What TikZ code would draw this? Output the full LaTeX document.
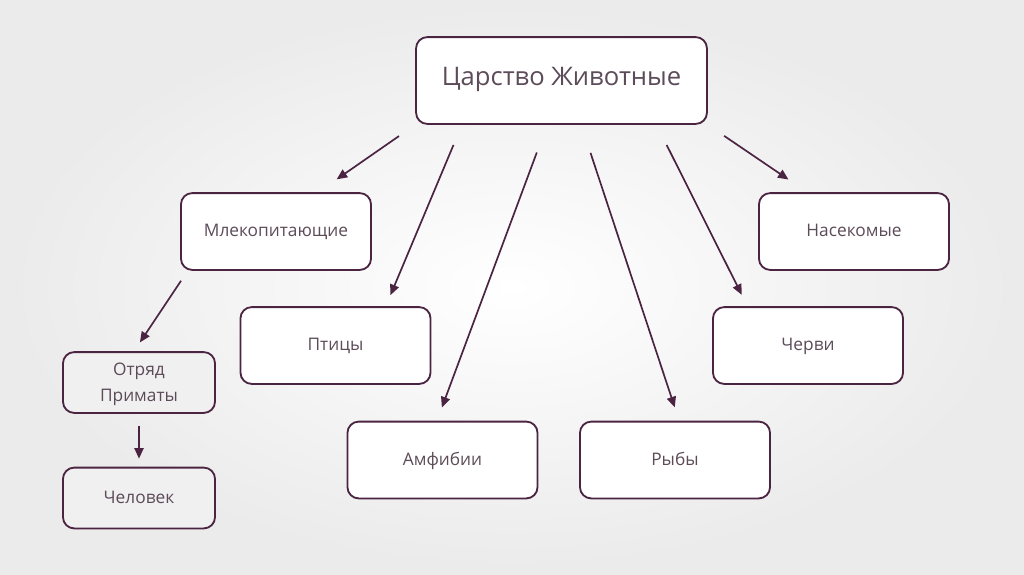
\documentclass[tikz,border=0pt]{standalone}
\usepackage{fontspec}
\setmainfont{Open Sans}
\usepackage{xcolor}
\usetikzlibrary{arrows.meta}

\definecolor{plum}{HTML}{4B2442}
\definecolor{txtplum}{HTML}{5C4B59}
\definecolor{boxgray}{HTML}{F1F0F1}

\tikzset{
  box/.style={draw=plum, line width=1.3pt, rounded corners=8pt, fill=white,
    text=txtplum, minimum width=4.75cm, minimum height=1.92cm, align=center,
    text height=0.9em, text depth=0.18em,
    font=\fontsize{12.3}{18}\selectfont},
  graybox/.style={box, fill=boxgray, minimum width=3.8cm, minimum height=1.52cm},
  arr/.style={draw=plum, line width=1.2pt, -{Triangle[length=7.5pt,width=6.5pt]}}
}

\begin{document}
\begin{tikzpicture}[x=0.025cm, y=-0.025cm]
\shade[inner color=white, outer color=black!8] (0,0) rectangle (1024,574);
\useasboundingbox (0,0) rectangle (1024,574);

\node[box, minimum width=7.27cm, minimum height=2.17cm,
  font=\fontsize{18.2}{22}\selectfont] (kingdom) at (561.5,80.5) {Царство Животные};
\node[box] (mammals) at (276,231.5) {Млекопитающие};
\node[box] (insects) at (854,231.5) {Насекомые};
\node[box] (birds) at (335.5,345.5) {Птицы};
\node[box] (worms) at (808,345.5) {Черви};
\node[box] (amphib) at (442.5,460) {Амфибии};
\node[box] (fish) at (675,460) {Рыбы};
\node[graybox, text height={}, text depth=0.05em] (primates) at (139,382.5) {Отряд\\Приматы};
\node[graybox] (human) at (139,498) {Человек};

\draw[arr, shorten <=14pt, shorten >=16pt] (kingdom.south west) -- (mammals.43);
\draw[arr, shorten <=15.5pt, shorten >=8.5pt] (kingdom.204) -- (birds.38);
\draw[arr, shorten <=21pt, shorten >=10pt] (kingdom.252) -- (amphib.98);
\draw[arr, shorten <=21pt, shorten >=10pt] (kingdom.294) -- (fish.84);
\draw[arr, shorten <=16pt, shorten >=9pt] (kingdom.335) -- (worms.147);
\draw[arr, shorten <=14pt, shorten >=16pt] (kingdom.south east) -- (insects.140);
\draw[arr, shorten <=8.5pt, shorten >=7.5pt] (mammals.204) -- (primates.99);
\draw[arr, shorten <=8.5pt, shorten >=5.7pt] (primates) -- (human);
\end{tikzpicture}
\end{document}
